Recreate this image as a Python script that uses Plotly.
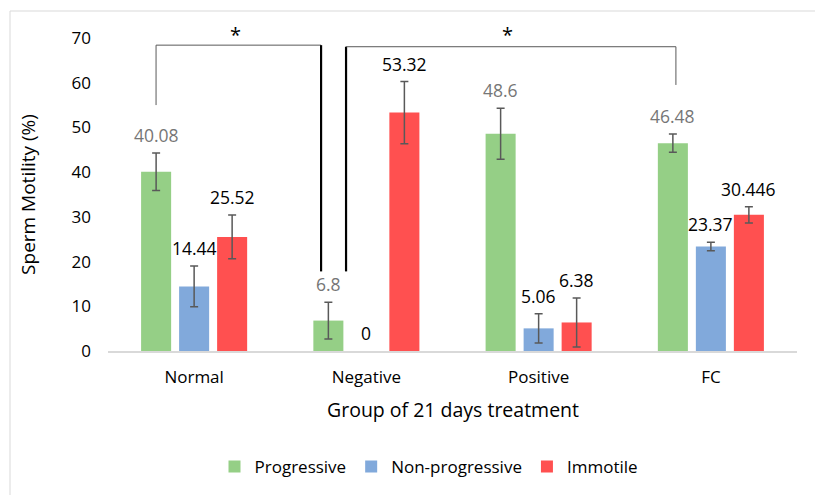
import plotly.graph_objects as go

groups = ["Normal", "Negative", "Positive", "FC"]
series_names = ["Progressive", "Non-progressive", "Immotile"]
progressive = [40.08, 6.8, 48.6, 46.48]
non_progressive = [14.44, 0, 5.06, 23.37]
immotile = [25.52, 53.32, 6.38, 30.446]
progressive_err = [4.2, 4.1, 5.7, 2.05]
non_progressive_err = [4.55, 0, 3.25, 0.95]
immotile_err = [4.9, 6.95, 5.5, 1.8]
progressive_labels = ["40.08", "6.8", "48.6", "46.48"]
non_progressive_labels = ["14.44", "0", "5.06", "23.37"]
immotile_labels = ["25.52", "53.32", "6.38", "30.446"]
y_ticks = [0, 10, 20, 30, 40, 50, 60, 70]
y_range = [0, 70]

colors = ["#95CF86", "#81A9DB", "#FF5050"]
label_colors = ["#767676", "#000000", "#000000"]
FONT = "'Open Sans', sans-serif"

W, H = 815, 495
L, R, T, B = 108, 18, 38, 144
pw, ph = W - L - R, H - T - B

fig = go.Figure()
all_vals = [progressive, non_progressive, immotile]
all_errs = [progressive_err, non_progressive_err, immotile_err]
all_labels = [progressive_labels, non_progressive_labels, immotile_labels]

for name, vals, errs, col in zip(series_names, all_vals, all_errs, colors):
    # a zero-height bar (and its zero error bar) draws nothing in the reference
    plot_vals = [v if v != 0 else None for v in vals]
    fig.add_trace(go.Bar(
        name=name, x=groups, y=plot_vals, marker_color=col,
        marker_line_width=0,
        error_y=dict(type="data", array=errs, visible=True,
                     color="#595959", thickness=1.5, width=4),
    ))

shifts = [-38, 0, 38]
annotations = []
for vals, errs, labs, lc, sh in zip(all_vals, all_errs, all_labels, label_colors, shifts):
    for g, v, e, t in zip(groups, vals, errs, labs):
        annotations.append(dict(
            x=g, y=v + e, xref="x", yref="y", text=t, showarrow=False,
            xshift=sh, yshift=4, yanchor="bottom",
            font=dict(family=FONT, size=17.5, color=lc),
        ))

# significance stars (placed just above the top of the value axis)
top = y_range[1]
annotations.append(dict(x=0.243, y=top, xref="x", yref="y", text="*", showarrow=False,
                        yanchor="middle", yshift=4, font=dict(family=FONT, size=20, color="#000000")))
annotations.append(dict(x=1.822, y=top, xref="x", yref="y", text="*", showarrow=False,
                        yanchor="middle", yshift=4, font=dict(family=FONT, size=20, color="#000000")))

# x axis title
annotations.append(dict(x=0.5, y=(H - B - 410) / ph, xref="paper", yref="paper",
                        text="Group of 21 days treatment", showarrow=False,
                        yanchor="middle", xanchor="center",
                        font=dict(family=FONT, size=19.5, color="#000000")))

shapes = []
thin = dict(color="#595959", width=1)
thick = dict(color="#000000", width=2.2)
# bracket 1
shapes.append(dict(type="line", xref="x", yref="y", x0=-0.221, x1=-0.221, y0=55.0, y1=68.4, line=thin))
shapes.append(dict(type="line", xref="x", yref="y", x0=-0.221, x1=0.737, y0=68.4, y1=68.4, line=thin))
shapes.append(dict(type="line", xref="x", yref="y", x0=0.737, x1=0.737, y0=68.4, y1=17.8, line=thick))
# bracket 2
shapes.append(dict(type="line", xref="x", yref="y", x0=0.882, x1=0.882, y0=17.8, y1=68.05, line=thick))
shapes.append(dict(type="line", xref="x", yref="y", x0=0.882, x1=2.797, y0=68.05, y1=68.05, line=thin))
shapes.append(dict(type="line", xref="x", yref="y", x0=2.797, x1=2.797, y0=68.05, y1=59.5, line=thin))
# chart border
shapes.append(dict(type="rect", xref="paper", yref="paper",
                   x0=(10 - L) / pw, x1=(W + 20 - L) / pw,
                   y0=(H - B - (H + 20)) / ph, y1=(H - B - 11) / ph,
                   line=dict(color="#D9D9D9", width=1), layer="below"))

fig.update_layout(
    width=W, height=H,
    margin=dict(l=L, r=R, t=T, b=B, autoexpand=False),
    paper_bgcolor="white", plot_bgcolor="white",
    barmode="group", bargap=0.338, bargroupgap=0.21,
    font=dict(family=FONT, size=17, color="#000000"),
    annotations=annotations, shapes=shapes,
    legend=dict(orientation="h", x=(429 - L) / pw, xanchor="center",
                y=(H - B - 467) / ph, yanchor="middle",
                font=dict(family=FONT, size=17, color="#000000"),
                itemwidth=30, tracegroupgap=0),
    showlegend=True,
)
fig.update_xaxes(showline=True, linecolor="#D9D9D9", linewidth=1.5, ticks="",
                 showgrid=False, tickfont=dict(family=FONT, size=17, color="#000000"),
                 ticklabelstandoff=10)
fig.update_yaxes(range=y_range, tickvals=y_ticks, showgrid=False, zeroline=False,
                 showline=False, ticks="", tickfont=dict(family=FONT, size=17, color="#000000"),
                 ticklabelstandoff=16,
                 title=dict(text="Sperm Motility (%)", standoff=30,
                            font=dict(family=FONT, size=19, color="#000000")))

fig.write_html("out.html", config={"displayModeBar": False},
               post_script="document.body.style.margin='0';")
